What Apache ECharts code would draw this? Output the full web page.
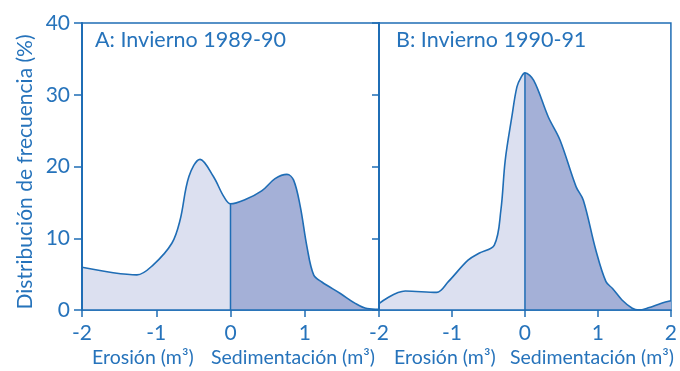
<!DOCTYPE html>
<html>
<head>
<meta charset="utf-8">
<script src="https://cdn.jsdelivr.net/npm/echarts@6/dist/echarts.min.js"></script>
<style>
  html, body { margin: 0; padding: 0; background: #fff; }
  #chart { width: 680px; height: 371px; }
</style>
</head>
<body>
<div id="chart"></div>
<script>
// A: Invierno 1989-90
var xErosionA = [-2, -1.58, -1.26, -1.04, -0.79, -0.68, -0.56, -0.41, -0.23, -0.09, 0];
var yErosionA = [5.95, 5.2, 4.9, 6.3, 9.3, 12.5, 18.6, 21.0, 18.6, 15.8, 14.8];
var xSedimentA = [0.2, 0.42, 0.6, 0.76, 0.85, 0.94, 1.03, 1.12, 1.23, 1.48, 1.68, 1.84, 2];
var ySedimentA = [15.4, 16.6, 18.3, 18.9, 18.1, 14.4, 8.8, 4.9, 3.9, 2.3, 0.93, 0.2, 0.1];

// B: Invierno 1990-91
var xErosionB = [-2, -1.64, -1.21, -1.05, -0.78, -0.63, -0.42, -0.33, -0.27, -0.18, -0.11, -0.05, 0];
var yErosionB = [0.9, 2.65, 2.45, 3.95, 6.95, 7.9, 9.05, 13.9, 20.9, 26.9, 31.1, 32.5, 33.05];
var xSedimentB = [0.12, 0.32, 0.48, 0.7, 0.8, 0.97, 1.11, 1.2, 1.33, 1.47, 1.56, 1.69, 1.87, 2];
var ySedimentB = [32.0, 26.9, 23.7, 17.2, 15.3, 8.4, 3.95, 3.0, 1.4, 0.25, 0, 0.3, 0.95, 1.3];

var panelTitles = ['A: Invierno 1989-90', 'B: Invierno 1990-91'];
var yTitle = 'Distribución de frecuencia (%)';
var erosionLabel = 'Erosión (m³)';
var sedimentLabel = 'Sedimentación (m³)';

var blue = '#1f6db5';
var textBlue = '#2673bb';
var lightFill = '#dce0f0';
var darkFill = '#a4b0d7';
var fontFamily = 'Lato, "Open Sans", sans-serif';

function zip(xs, ys) {
  return xs.map(function (x, i) { return [x, ys[i]]; });
}

function xAxisFor(gridIndex, showMax) {
  return {
    type: 'value', gridIndex: gridIndex, min: -2, max: 2, interval: 1, z: 5,
    axisLine: {show: true, onZero: false, lineStyle: {color: blue, width: 1.5}},
    axisTick: {show: true, inside: false, length: 7, lineStyle: {color: blue, width: 1.5}},
    axisLabel: {color: textBlue, fontSize: 21, margin: 13, fontFamily: fontFamily, showMaxLabel: showMax},
    splitLine: {show: false}
  };
}

function yAxisFor(gridIndex, position, ticks, inside) {
  return {
    type: 'value', gridIndex: gridIndex, position: position, min: 0, max: 40, interval: 10, z: 5,
    axisLine: {show: true, onZero: false, lineStyle: {color: blue, width: 2}},
    axisTick: {show: ticks, inside: inside, length: inside ? 7 : 8, lineStyle: {color: blue, width: 1.5}},
    axisLabel: {show: !inside && ticks, color: textBlue, fontSize: 21, margin: 12, fontFamily: fontFamily},
    splitLine: {show: false}
  };
}

// whole curve, area coloured by x (erosion light, sedimentation dark)
function curve(gridIndex, xs, ys) {
  return {
    type: 'line', xAxisIndex: gridIndex, yAxisIndex: gridIndex === 0 ? 0 : 2,
    data: zip(xs, ys), smooth: 0.35, symbol: 'none', z: 2,
    lineStyle: {color: blue, width: 1.6},
    areaStyle: {opacity: 1}
  };
}

// vertical line at x = 0 up to the curve
function zeroLine(gridIndex, yAtZero) {
  return {
    type: 'line', xAxisIndex: gridIndex, yAxisIndex: gridIndex === 0 ? 0 : 2,
    data: [[0, 0], [0, yAtZero]], symbol: 'none', z: 3,
    lineStyle: {color: blue, width: 1.5}
  };
}

function label(text, left, top, size) {
  return {
    type: 'text', left: left, top: top,
    style: {text: text, fill: textBlue, font: size + 'px ' + fontFamily}
  };
}

var chart = echarts.init(document.getElementById('chart'));
chart.setOption({
  animation: false,
  grid: [
    {left: 82, top: 23, width: 297, height: 287, show: true, borderColor: blue, borderWidth: 1.5},
    {left: 379, top: 23, width: 297, height: 287, show: true, borderColor: blue, borderWidth: 1.5}
  ],
  visualMap: [
    {type: 'piecewise', show: false, seriesIndex: [0, 1], dimension: 0,
      pieces: [{min: -3, max: 0, color: lightFill}, {min: 0, max: 3, color: darkFill}]}
  ],
  xAxis: [xAxisFor(0, false), xAxisFor(1, true)],
  yAxis: [
    yAxisFor(0, 'left', true, false),
    yAxisFor(0, 'right', true, true),
    yAxisFor(1, 'left', false, false)
  ],
  series: [
    curve(0, xErosionA.concat(xSedimentA), yErosionA.concat(ySedimentA)),
    curve(1, xErosionB.concat(xSedimentB), yErosionB.concat(ySedimentB)),
    zeroLine(0, yErosionA[yErosionA.length - 1]),
    zeroLine(1, yErosionB[yErosionB.length - 1])
  ],
  graphic: [
    {
      type: 'text', x: 25, y: 172, rotation: Math.PI / 2,
      style: {text: yTitle, fill: textBlue, font: '21px ' + fontFamily, align: 'center', verticalAlign: 'middle'}
    },
    label(panelTitles[0], 95, 29, 21.5),
    label(panelTitles[1], 396, 29, 21.5),
    label(erosionLabel, 92, 348, 19.5),
    label(sedimentLabel, 211, 348, 19.5),
    label(erosionLabel, 394, 348, 19.5),
    label(sedimentLabel, 510, 348, 19.5)
  ]
});
</script>
</body>
</html>
